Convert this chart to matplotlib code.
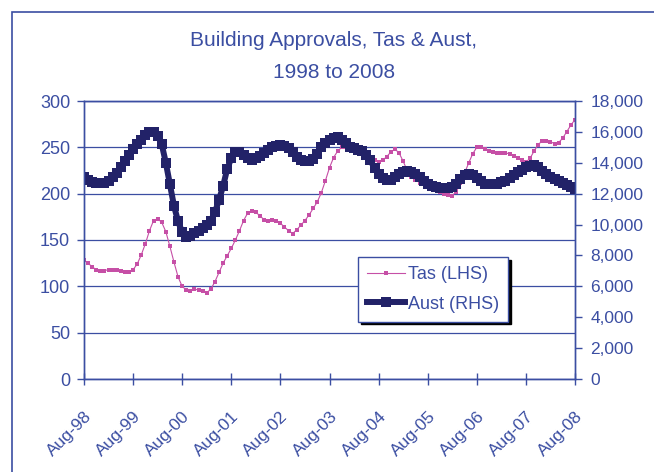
import numpy as np
import matplotlib
matplotlib.use("Agg")
import matplotlib.pyplot as plt
from matplotlib.patches import Rectangle

plt.rcParams['font.family'] = ['Liberation Sans', 'DejaVu Sans']

# monthly data, Aug-98 .. Aug-08
tas = [128, 125, 121, 118, 117, 117, 118, 118, 118, 117, 116, 115,
       118, 124, 134, 146, 160, 171, 173, 169, 159, 143, 126, 110,
       100, 96, 95, 97, 96, 95, 93, 97, 105, 115, 125, 133,
       141, 150, 160, 171, 179, 181, 180, 176, 172, 171, 172, 171,
       168, 164, 160, 157, 161, 166, 171, 177, 184, 191, 201, 214,
       228, 239, 246, 250, 250, 248, 246, 245, 244, 243, 240, 236,
       234, 236, 240, 245, 248, 244, 235, 225, 218, 215, 212, 210,
       208, 206, 204, 202, 200, 199, 198, 202, 212, 222, 233, 243,
       250, 250, 248, 246, 245, 244, 244, 244, 243, 241, 238, 236,
       234, 238, 246, 253, 257, 257, 256, 254, 255, 260, 267, 274,
       280]

aust = [13100, 12900, 12750, 12700, 12680, 12700, 12800, 13050, 13350, 13700, 14100, 14500,
        14900, 15200, 15500, 15800, 16000, 16000, 15750, 15200, 14000, 12600, 11200, 10200,
        9500, 9200, 9250, 9450, 9600, 9750, 9950, 10250, 10800, 11600, 12500, 13600,
        14300, 14700, 14700, 14500, 14300, 14200, 14300, 14450, 14650, 14850, 15000, 15100,
        15150, 15100, 14950, 14700, 14400, 14200, 14100, 14100, 14250, 14600, 15000, 15300,
        15500, 15620, 15650, 15500, 15250, 15050, 14950, 14850, 14750, 14500, 14150, 13650,
        13250, 13000, 12900, 12900, 13050, 13250, 13400, 13450, 13400, 13250, 13050, 12850,
        12650, 12500, 12400, 12350, 12350, 12350, 12400, 12650, 12950, 13200, 13300, 13200,
        13000, 12800, 12650, 12600, 12600, 12650, 12750, 12850, 13000, 13200, 13400, 13550,
        13700, 13800, 13850, 13700, 13500, 13300, 13100, 12950, 12850, 12700, 12550, 12400,
        12300]

tick_labels = ['Aug-98', 'Aug-99', 'Aug-00', 'Aug-01', 'Aug-02', 'Aug-03',
               'Aug-04', 'Aug-05', 'Aug-06', 'Aug-07', 'Aug-08']

blue = '#3B4EA2'
pink = '#C64FA6'
navy = '#222268'

months = np.arange(len(tas))

fig = plt.figure(figsize=(6.54, 4.72), dpi=100)
ax = fig.add_axes([84/654, 1 - 379/472, 491/654, 278/472])
ax2 = ax.twinx()

# outer chart border (right and bottom edges sit off the picture)
fig.patches.append(Rectangle((12/654, -0.2), 1.2, 1 - 12/472 + 0.2,
                             transform=fig.transFigure, fill=False,
                             edgecolor=blue, linewidth=1.2))

l1, = ax.plot(months, tas, color=pink, lw=0.8, marker='s', ms=3.5,
              markeredgewidth=0, label='Tas (LHS)')
l2, = ax2.plot(months, aust, color=navy, lw=4.3, marker='s', ms=7.5,
               markeredgewidth=0, label='Aust (RHS)')

ax.set_xlim(0, 120)
ax.set_ylim(0, 300)
ax2.set_ylim(0, 18000)
ax.set_yticks(np.arange(0, 301, 50))
ax2.set_yticks(np.arange(0, 18001, 2000))
ax2.set_yticklabels(['{:,}'.format(v) for v in range(0, 18001, 2000)])
ax.set_xticks(np.arange(0, 121, 12))
ax.set_xticklabels(tick_labels, rotation=45, ha='right', rotation_mode='anchor')

ax.yaxis.grid(True, color=blue, lw=0.9)
ax.set_axisbelow(True)

for a in (ax, ax2):
    for s in a.spines.values():
        s.set_color(blue)
        s.set_linewidth(1.0)
    a.tick_params(colors=blue, labelsize=13, width=1.0)
ax.tick_params(axis='y', length=5, pad=5)
ax2.tick_params(axis='y', length=5, pad=6, labelsize=12.5)
ax.tick_params(axis='x', direction='inout', length=9, pad=17, labelsize=12.5)
for t in ax.get_xticklabels() + ax.get_yticklabels() + ax2.get_yticklabels():
    t.set_color(blue)

fig.text(334/654, 1 - 40/472, 'Building Approvals, Tas & Aust,', ha='center',
         va='center', fontsize=15, color=blue)
fig.text(334/654, 1 - 72/472, '1998 to 2008', ha='center', va='center',
         fontsize=15, color=blue)

leg = ax2.legend(handles=[l1, l2], loc='upper left',
                 bbox_to_anchor=(358/654, 1 - 257/472),
                 bbox_transform=fig.transFigure, fontsize=13, numpoints=1,
                 fancybox=False, shadow={'color': 'black', 'alpha': 1},
                 framealpha=1, edgecolor=blue, handlelength=2.1,
                 handletextpad=0.15, borderpad=0.5, labelspacing=0.7,
                 borderaxespad=0)
leg.get_frame().set_linewidth(1.0)
for t in leg.get_texts():
    t.set_color(blue)

fig.savefig('out.png', dpi=100)
